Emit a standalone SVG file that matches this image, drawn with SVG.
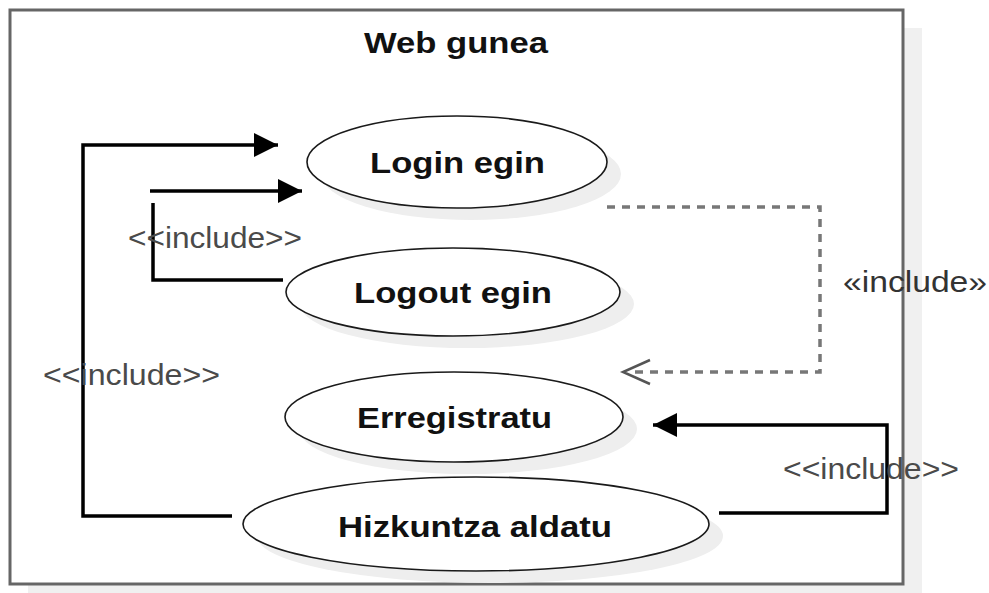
<svg xmlns="http://www.w3.org/2000/svg" width="989" height="593" viewBox="0 0 989 593">
<defs>
<style>
.frame{fill:#fff;stroke:#666;stroke-width:3}
.fshadow{fill:#f0f0f0}
.uc{fill:#fff;stroke:#1a1a1a;stroke-width:1.6}
.ushadow{fill:#eeeeee}
.title{font-family:"Liberation Sans",Arial,sans-serif;font-weight:bold;font-size:29px;fill:#111}
.lbl{font-family:"Liberation Sans",Arial,sans-serif;font-weight:bold;font-size:29px;fill:#111}
.inc{font-family:"Liberation Sans",Arial,sans-serif;font-size:29px;fill:#4a4a4a}
.inc2{font-family:"Liberation Sans",Arial,sans-serif;font-size:29px;fill:#333}
.conn{fill:none;stroke:#000;stroke-width:3.5}
.dash{fill:none;stroke:#777;stroke-width:3.5;stroke-dasharray:8 7}
.open{fill:none;stroke:#555;stroke-width:2.5}
</style>
<marker id="filled" viewBox="0 0 24 24" refX="24" refY="12" markerWidth="24" markerHeight="24" markerUnits="userSpaceOnUse" orient="auto">
<path d="M0,0 L24,12 L0,24 Z" fill="#000"/>
</marker>
</defs>

<g id="system">
<rect class="fshadow" x="28" y="28" width="894" height="574"/>
<rect class="frame" x="10" y="10" width="893" height="574"/>
<text class="title" x="456" y="53" text-anchor="middle" textLength="184" lengthAdjust="spacingAndGlyphs">Web gunea</text>
</g>

<g id="login">
<ellipse class="ushadow" cx="471" cy="174" rx="150" ry="46"/>
<ellipse class="uc" cx="457" cy="162" rx="150" ry="46"/>
<text class="lbl" x="457.5" y="173" text-anchor="middle" textLength="175" lengthAdjust="spacingAndGlyphs">Login egin</text>
</g>

<g id="logout">
<ellipse class="ushadow" cx="467" cy="304" rx="167" ry="44"/>
<ellipse class="uc" cx="453" cy="292" rx="167" ry="44"/>
<text class="lbl" x="453" y="303" text-anchor="middle" textLength="198" lengthAdjust="spacingAndGlyphs">Logout egin</text>
</g>

<g id="erregistratu">
<ellipse class="ushadow" cx="468" cy="429" rx="169" ry="45"/>
<ellipse class="uc" cx="454" cy="417" rx="169" ry="45"/>
<text class="lbl" x="454.5" y="428" text-anchor="middle" textLength="195" lengthAdjust="spacingAndGlyphs">Erregistratu</text>
</g>

<g id="hizkuntza">
<ellipse class="ushadow" cx="490" cy="536" rx="233" ry="47"/>
<ellipse class="uc" cx="476" cy="524" rx="233" ry="47"/>
<text class="lbl" x="475" y="537" text-anchor="middle" textLength="274" lengthAdjust="spacingAndGlyphs">Hizkuntza aldatu</text>
</g>

<g id="connectors">
<path class="conn" d="M232,516 H83 V145 H278" marker-end="url(#filled)"/>
<path class="conn" d="M283,280 H153 V203"/>
<path class="conn" d="M150,191 H302" marker-end="url(#filled)"/>
<path class="dash" d="M607,207 H820 V372 H630"/>
<path class="open" d="M650,360 L623,372 L650,384"/>
<path class="conn" d="M719,513 H887 V425 H653" marker-end="url(#filled)"/>
<text class="inc" x="128" y="248" textLength="174" lengthAdjust="spacingAndGlyphs">&lt;&lt;include&gt;&gt;</text>
<text class="inc" x="43" y="385" textLength="177" lengthAdjust="spacingAndGlyphs">&lt;&lt;include&gt;&gt;</text>
<text class="inc2" x="843" y="292" textLength="144" lengthAdjust="spacingAndGlyphs">«include»</text>
<text class="inc" x="783" y="479" textLength="176" lengthAdjust="spacingAndGlyphs">&lt;&lt;include&gt;&gt;</text>
</g>
</svg>
